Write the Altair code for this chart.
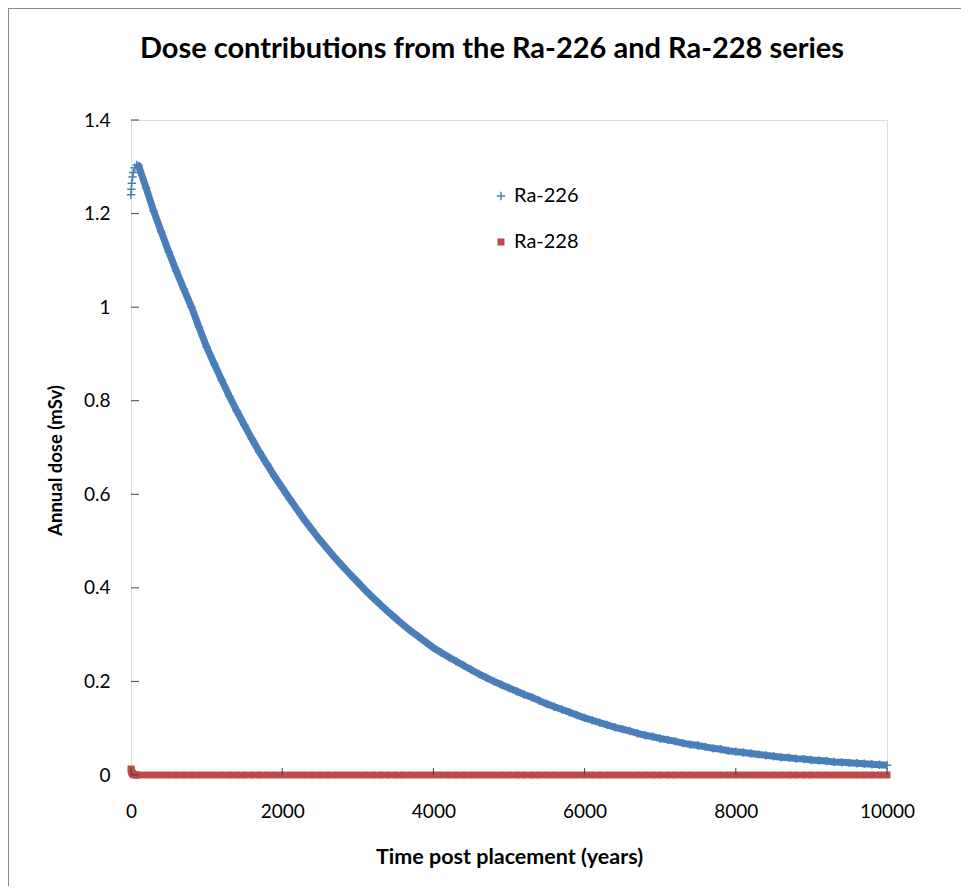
import altair as alt
import pandas as pd

# ---- data ----
series_names = ["Ra-226", "Ra-228"]

years = [0, 5, 10, 20, 30, 50, 75] + list(range(100, 10001, 100))

ra226 = [
    1.240, 1.252, 1.265, 1.278, 1.288, 1.298, 1.304,
    1.302, 1.255, 1.205, 1.161, 1.118, 1.077, 1.038, 1.000, 0.957, 0.915,
    0.879, 0.844, 0.810, 0.778, 0.748, 0.718, 0.690, 0.664, 0.638, 0.614,
    0.590, 0.567, 0.544, 0.523, 0.502, 0.483, 0.464, 0.446, 0.429, 0.412,
    0.395, 0.379, 0.364, 0.349, 0.335, 0.321, 0.308, 0.296, 0.284, 0.272,
    0.262, 0.252, 0.243, 0.234, 0.225, 0.216, 0.208, 0.200, 0.193, 0.186,
    0.179, 0.172, 0.166, 0.159, 0.152, 0.146, 0.140, 0.134, 0.128, 0.122,
    0.117, 0.112, 0.107, 0.102, 0.098, 0.094, 0.089, 0.085, 0.082, 0.078,
    0.075, 0.072, 0.068, 0.065, 0.063, 0.060, 0.057, 0.055, 0.052, 0.050,
    0.048, 0.046, 0.044, 0.042, 0.040, 0.038, 0.037, 0.035, 0.034, 0.032,
    0.031, 0.030, 0.028, 0.027, 0.026, 0.025, 0.024, 0.023, 0.022, 0.021,
]

ra228 = [
    0.013, 0.009, 0.006, 0.003, 0.001, 0.0, 0.0,
    0.0, 0.0, 0.0, 0.0, 0.0, 0.0, 0.0, 0.0, 0.0, 0.0, 0.0, 0.0, 0.0, 0.0, 0.0, 0.0, 0.0, 0.0, 0.0, 0.0,
    0.0, 0.0, 0.0, 0.0, 0.0, 0.0, 0.0, 0.0, 0.0, 0.0, 0.0, 0.0, 0.0, 0.0, 0.0, 0.0, 0.0, 0.0, 0.0, 0.0,
    0.0, 0.0, 0.0, 0.0, 0.0, 0.0, 0.0, 0.0, 0.0, 0.0, 0.0, 0.0, 0.0, 0.0, 0.0, 0.0, 0.0, 0.0, 0.0, 0.0,
    0.0, 0.0, 0.0, 0.0, 0.0, 0.0, 0.0, 0.0, 0.0, 0.0, 0.0, 0.0, 0.0, 0.0, 0.0, 0.0, 0.0, 0.0, 0.0, 0.0,
    0.0, 0.0, 0.0, 0.0, 0.0, 0.0, 0.0, 0.0, 0.0, 0.0, 0.0, 0.0, 0.0, 0.0, 0.0, 0.0, 0.0, 0.0, 0.0, 0.0,
]

x_ticks = [0, 2000, 4000, 6000, 8000, 10000]
y_ticks = [0, 0.2, 0.4, 0.6, 0.8, 1.0, 1.2, 1.4]

# ---- styling ----
BLUE = "#4a7ebb"
RED = "#be4b48"
AXIS = "#404040"
FONT = "Lato"
W, H = 756, 655
PLUS = "M-1,0H1M0,-1V1"

n = len(years)
df = pd.DataFrame({
    "year": years + years,
    "dose": ra226 + ra228,
    "series": [series_names[0]] * n + [series_names[1]] * n,
})

x_enc = alt.X(
    "year:Q",
    scale=alt.Scale(domain=[0, 10000], nice=False, zero=False),
    axis=alt.Axis(
        values=x_ticks, format="d", title="Time post placement (years)",
        ticks=False, tickSize=0, domain=False, grid=False, labelFlush=False,
        labelFont=FONT, labelFontSize=19, labelColor="#000", labelPadding=27,
        titleFont=FONT, titleFontSize=21.5, titleFontWeight="bold", titleColor="#000",
        titleBaseline="middle", titleY=82,
    ),
)
y_enc = alt.Y(
    "dose:Q",
    scale=alt.Scale(domain=[0, 1.4], nice=False),
    axis=alt.Axis(
        values=y_ticks, format="~g", title="Annual dose (mSv)",
        ticks=False, tickSize=0, domain=False, grid=False, labelFlush=False,
        labelFont=FONT, labelFontSize=19, labelColor="#000", labelPadding=21,
        titleFont=FONT, titleFontSize=18.5, titleFontWeight="bold", titleColor="#000",
        titleBaseline="middle", titleX=-76, titleY=340,
    ),
)

base = alt.Chart(df)

line226 = base.transform_filter(
    (alt.datum.series == series_names[0]) & (alt.datum.year >= 75)
).mark_line(color=BLUE, strokeWidth=7).encode(x=x_enc, y=y_enc)

line228 = base.transform_filter(
    alt.datum.series == series_names[1]
).mark_line(color=RED, strokeWidth=6).encode(x=x_enc, y=y_enc)

leg = alt.Legend(
    title=None, orient="none", legendX=360, legendY=66,
    labelFont=FONT, labelFontSize=20, labelColor="#000",
    labelOffset=3, rowPadding=26, symbolStrokeWidth=1.5, padding=0,
)

points = base.mark_point(filled=False, strokeWidth=1.5, opacity=1).encode(
    x=x_enc,
    y=y_enc,
    color=alt.Color("series:N", scale=alt.Scale(domain=series_names, range=[BLUE, RED]), legend=leg),
    shape=alt.Shape("series:N", scale=alt.Scale(domain=series_names, range=[PLUS, "square"]), legend=leg),
    fill=alt.Fill("series:N", scale=alt.Scale(domain=series_names, range=["transparent", RED]), legend=leg),
    size=alt.Size("series:N", scale=alt.Scale(domain=series_names, range=[70, 30]), legend=None),
)

ytick_df = pd.DataFrame({"dose": y_ticks})
xtick_df = pd.DataFrame({"year": x_ticks})

yticks = alt.Chart(ytick_df).mark_rule(color=AXIS, strokeWidth=1).encode(
    y=alt.Y("dose:Q"), x=alt.value(0), x2=alt.value(8)
)
xticks = alt.Chart(xtick_df).mark_rule(color=AXIS, strokeWidth=1).encode(
    x=alt.X("year:Q"), y=alt.value(H), y2=alt.value(H - 7)
)

one = alt.Data(values=[{"a": 1}])
frame_left = alt.Chart(one).mark_rule(color="#8a8a8a", strokeWidth=2).encode(
    x=alt.value(-123), y=alt.value(-112), y2=alt.value(H + 130)
)
frame_top = alt.Chart(one).mark_rule(color="#8a8a8a", strokeWidth=2).encode(
    x=alt.value(-124), x2=alt.value(W + 90), y=alt.value(-112)
)

chart = alt.layer(
    frame_left, frame_top, line226, line228, points, yticks, xticks
).properties(
    width=W,
    height=H,
    title=alt.TitleParams(
        "Dose contributions from the Ra-226 and Ra-228 series",
        font=FONT, fontSize=29, fontWeight="bold", color="#000",
        anchor="middle", frame="bounds", baseline="alphabetic", offset=-80,
    ),
    autosize=alt.AutoSizeParams(type="none"),
    padding={"left": 123, "top": 112, "right": 74, "bottom": 111},
).configure_view(
    stroke=AXIS, strokeWidth=1
).configure(
    background="white"
)

chart.save("out.html", embed_options={"renderer": "svg", "actions": False})
